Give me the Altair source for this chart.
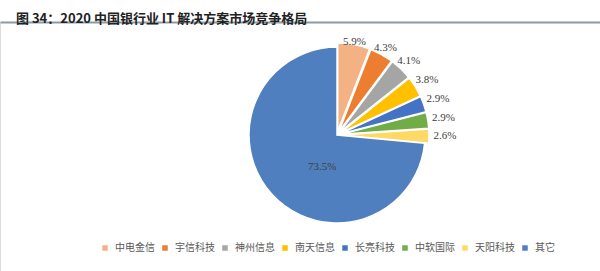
import altair as alt
import pandas as pd

cats = ["中电金信", "宇信科技", "神州信息", "南天信息", "长亮科技", "中软国际", "天阳科技", "其它"]
vals = [5.9, 4.3, 4.1, 3.8, 2.9, 2.9, 2.6, 73.5]
colors = ["#F4B183", "#ED7D31", "#A5A5A5", "#FFC000", "#4472C4", "#70AD47", "#FFD966", "#4F7FBE"]
labels = [f"{v:.1f}%" for v in vals]
title_text = "图 34：2020 中国银行业 IT 解决方案市场竞争格局"

df = pd.DataFrame({"idx": list(range(len(cats))), "cat": cats, "value": vals, "lab": labels})

CX, CY = 337, 113

base = alt.Chart(df).transform_window(
    cum="sum(value)", sort=[alt.SortField("idx")], frame=[None, 0]
).transform_joinaggregate(
    total="sum(value)"
).transform_calculate(
    mid="(datum.cum - datum.value/2) / datum.total * 2 * PI",
    ex="datum.cat == '其它' ? 0 : 4",
    dx="datum.ex * sin(datum.mid)",
    dy="-datum.ex * cos(datum.mid)",
    lr="datum.cat == '其它' ? 35 : 92 + 16 * abs(sin(datum.mid))",
)

pie = base.mark_arc(
    radius=88, stroke="white", strokeWidth=1.5,
    xOffset=alt.expr("datum.dx"), yOffset=alt.expr("datum.dy"),
).encode(
    theta=alt.Theta("value:Q", stack=True),
    order=alt.Order("idx:Q"),
    color=alt.Color(
        "cat:N",
        scale=alt.Scale(domain=cats, range=colors),
        legend=alt.Legend(
            orient="none", legendX=100, legendY=221, direction="horizontal",
            title=None, symbolType="square", symbolSize=30, symbolStrokeWidth=0,
            labelFont="Noto Sans CJK SC", labelFontSize=10, labelColor="#595959",
            columnPadding=5, symbolOffset=0, labelOffset=5,
        ),
    ),
    x=alt.value(CX),
    y=alt.value(CY),
)

text = base.mark_text(
    font="Liberation Serif", fontSize=11, color="#404040",
    dx=alt.expr("datum.cat == '其它' ? 11 : 0"),
    dy=alt.expr("datum.cat == '其它' ? 8 : 0"),
).encode(
    theta=alt.Theta("mid:Q", scale=None),
    radius=alt.Radius("lr:Q", scale=None),
    text="lab:N",
    x=alt.value(CX),
    y=alt.value(CY),
)

# invisible layer whose top axis domain line draws the title underline
underline = base.mark_point(opacity=0).encode(
    x=alt.X(
        "value:Q",
        axis=alt.Axis(
            orient="top", domainColor="#8C9AA6", domainWidth=2,
            ticks=False, labels=False, grid=False, title=None,
        ),
    ),
    y=alt.value(CY),
)

chart = alt.layer(underline, pie, text).properties(
    width=600, height=249,
    padding={"left": 0, "top": 22, "right": 0, "bottom": 0},
    autosize=alt.AutoSizeParams(type="none"),
    title=alt.TitleParams(
        title_text, anchor="start", frame="group", dx=16, offset=8, dy=22,
        baseline="alphabetic", font="Noto Sans CJK SC", fontSize=13,
        fontWeight="bold", color="#222222",
    ),
).configure_view(stroke=None, strokeWidth=0).configure(background="white")

chart.save("out.html", embed_options={"renderer": "svg", "actions": False})
